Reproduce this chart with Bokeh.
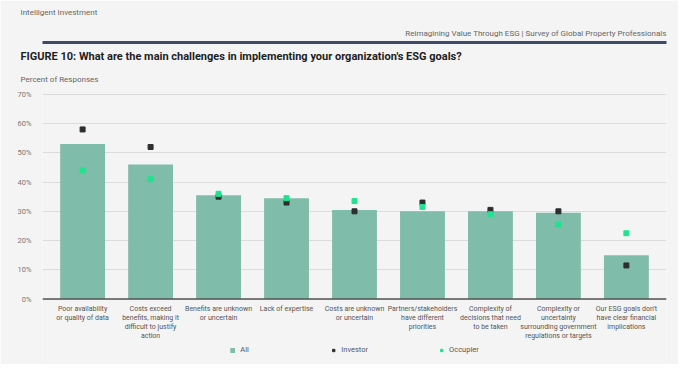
from bokeh.plotting import figure
from bokeh.models import (FactorRange, Title, Legend, LegendItem, CategoricalAxis,
                          FixedTicker, LabelSet, ColumnDataSource, Span)
from bokeh.core.properties import value
from bokeh.embed import file_html
from bokeh.resources import INLINE

# ---- data ----
categories = [
    "Poor availability\nor quality of data",
    "Costs exceed\nbenefits, making it\ndifficult to justify\naction",
    "Benefits are unknown\nor uncertain",
    "Lack of expertise",
    "Costs are unknown\nor uncertain",
    "Partners/stakeholders\nhave different\npriorities",
    "Complexity of\ndecisions that need\nto be taken",
    "Complexity or\nuncertainty\nsurrounding government\nregulations or targets",
    "Our ESG goals don't\nhave clear financial\nimplications",
]
all_vals = [53, 46, 35.5, 34.5, 30.5, 30, 30, 29.5, 15]
investor_vals = [58, 52, 35, 33, 30, 33, 30.5, 30, 11.5]
occupier_vals = [44, 41, 36, 34.5, 33.5, 31.5, 29, 25.5, 22.5]
y_ticks = [0, 10, 20, 30, 40, 50, 60, 70]
y_tick_labels = {t: f"{t}%" for t in y_ticks}

FONT = "Roboto"
BAR = "#80bcaa"
INV = "#2e2e2e"
OCC = "#1fe38f"
PANEL = "#f4f4f4"

p = figure(
    x_range=FactorRange(*categories, range_padding=0.02),
    y_range=(-21, 72),
    width=678, height=364,
    output_backend="svg", toolbar_location=None,
    min_border_left=42, min_border_right=12, min_border_top=6, min_border_bottom=4,
)
p.title.visible = False
p.background_fill_color = PANEL
p.border_fill_color = PANEL
p.outline_line_color = None

r_all = p.vbar(x=categories, top=all_vals, width=0.66, fill_color=BAR, line_color=None)
r_inv = p.scatter(x=categories, y=investor_vals, marker="square", size=5,
                  fill_color=INV, line_color=INV)
r_occ = p.scatter(x=categories, y=occupier_vals, marker="square", size=5,
                  fill_color=OCC, line_color=OCC)

# baseline of the bars
p.add_layout(Span(location=0, dimension="width", line_color="#555555", line_width=1.5))

# category labels under the baseline, one centred line at a time
split_labels = [c.split("\n") for c in categories]
n_lines = max(len(s) for s in split_labels)
for k in range(n_lines):
    xs = [c for c, s in zip(categories, split_labels) if len(s) > k]
    texts = [s[k] for s in split_labels if len(s) > k]
    src = ColumnDataSource(dict(x=xs, label=texts))
    p.add_layout(LabelSet(x="x", y=0, text="label", source=src,
                          y_offset=-6 - 9 * k,
                          text_align="center", text_baseline="top",
                          text_font=value(FONT), text_font_size="7px",
                          text_color="#555555"))

# stacked header items above the plot (first added = closest to the plot)
p.add_layout(Title(text="Percent of Responses", align="left", offset=-22,
                   text_font=FONT, text_font_size="8px", text_color="#666666",
                   text_font_style="normal"), "above")
p.add_layout(Title(text="FIGURE 10: What are the main challenges in implementing your organization's ESG goals?",
                   align="left", offset=-22, text_font=FONT, text_font_size="11px",
                   text_color="#1e1e1e", text_font_style="bold"), "above")
rule = CategoricalAxis(ticker=FixedTicker(ticks=[]),
                       axis_line_color="#3c4a6c", axis_line_width=3,
                       major_tick_line_color=None, minor_tick_line_color=None)
p.add_layout(rule, "above")
p.add_layout(Title(text="Reimagining Value Through ESG | Survey of Global Property Professionals",
                   align="right", text_font=FONT, text_font_size="8px",
                   text_color="#666666", text_font_style="normal"), "above")
p.add_layout(Title(text="Intelligent Investment", align="left", offset=-22, text_font=FONT,
                   text_font_size="8px", text_color="#666666",
                   text_font_style="normal"), "above")

# axes
p.below[0].visible = False
p.yaxis.ticker = y_ticks
p.yaxis.major_label_overrides = y_tick_labels
p.yaxis.axis_line_color = None
p.yaxis.major_tick_line_color = None
p.yaxis.minor_tick_line_color = None
p.yaxis.major_label_text_font = FONT
p.yaxis.major_label_text_font_size = "7.5px"
p.yaxis.major_label_text_color = "#777777"

p.xgrid.grid_line_color = None
p.ygrid.ticker = FixedTicker(ticks=y_ticks)
p.ygrid.grid_line_color = "#dcdcdc"

legend = Legend(
    items=[LegendItem(label="All", renderers=[r_all]),
           LegendItem(label="Investor", renderers=[r_inv]),
           LegendItem(label="Occupier", renderers=[r_occ])],
    orientation="horizontal", location="bottom_center", spacing=70,
    glyph_width=6, glyph_height=6, label_text_font=FONT,
    label_text_font_size="7.5px", label_text_color="#555555",
    background_fill_alpha=0, border_line_alpha=0, margin=2, padding=4,
)
p.add_layout(legend, "center")

open("out.html", "w").write(file_html(p, INLINE))
